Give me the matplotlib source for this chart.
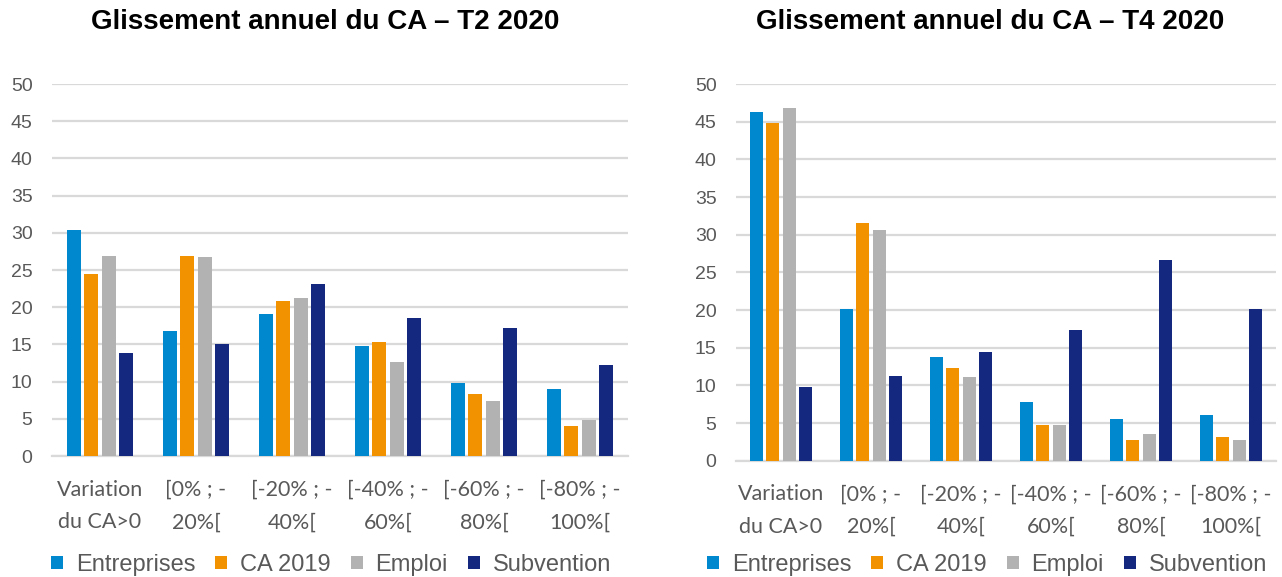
import numpy as np
import matplotlib
matplotlib.use("Agg")
import matplotlib.pyplot as plt

# ── Données ────────────────────────────────────────────────────────────────
categories = ["Variation\ndu CA>0", "[0% ; -\n20%[", "[-20% ; -\n40%[",
              "[-40% ; -\n60%[", "[-60% ; -\n80%[", "[-80% ; -\n100%["]
series = ["Entreprises", "CA 2019", "Emploi", "Subvention"]

t2_entreprises = [30.4, 16.8, 19.1, 14.8, 9.8, 9.0]
t2_ca2019      = [24.4, 26.9, 20.9, 15.3, 8.4, 4.0]
t2_emploi      = [26.9, 26.8, 21.3, 12.7, 7.4, 4.8]
t2_subvention  = [13.8, 15.0, 23.1, 18.6, 17.2, 12.2]

t4_entreprises = [46.3, 20.2, 13.7, 7.8, 5.5, 6.1]
t4_ca2019      = [44.8, 31.6, 12.3, 4.8, 2.7, 3.2]
t4_emploi      = [46.8, 30.6, 11.1, 4.7, 3.5, 2.7]
t4_subvention  = [9.8, 11.3, 14.4, 17.3, 26.7, 20.2]

y_ticks = [0, 5, 10, 15, 20, 25, 30, 35, 40, 45, 50]

COLORS = ["#0088CF", "#F39200", "#B2B2B2", "#152880"]
GRID = "#D9D9D9"
TXT = "#595959"


def draw(ax, data, title, title_x, legend_x):
    x = np.arange(len(categories))
    step, width = 0.183, 0.145
    handles = []
    for k, (vals, col, name) in enumerate(zip(data, COLORS, series)):
        b = ax.bar(x + (k - 1.5) * step, vals, width, color=col, label=name, zorder=3)
        handles.append(b)
    ax.set_xlim(-0.5, len(categories) - 0.5)
    ax.set_ylim(0, 50)
    ax.set_yticks(y_ticks)
    ax.yaxis.grid(True, color=GRID, linewidth=1.6, zorder=0)
    ax.set_axisbelow(True)
    for s in ["top", "right", "left"]:
        ax.spines[s].set_visible(False)
    ax.spines["bottom"].set_color(GRID)
    ax.spines["bottom"].set_linewidth(1.6)
    ax.tick_params(length=0, colors=TXT)
    ax.tick_params(axis="y", labelsize=14, pad=14)
    ax.set_xticks(x)
    ax.set_xticklabels(categories, fontsize=15.5, family="Lato",
                       color=TXT, linespacing=1.8)
    ax.tick_params(axis="x", pad=17)
    for lbl in ax.get_yticklabels():
        lbl.set_family("Liberation Sans")

    fig.text(title_x / 1282, 1 - 22 / 577, title,
             ha="center", va="center", fontsize=20, fontweight="bold",
             family="Liberation Sans")
    fig.legend(handles, series, loc="center",
               bbox_to_anchor=(legend_x / 1282, 1 - 565 / 577), ncol=4,
               frameon=False, handlelength=0.5, handleheight=0.5,
               handletextpad=0.55, columnspacing=0.85,
               prop={"family": "Liberation Sans", "size": 17},
               labelcolor=TXT)


fig = plt.figure(figsize=(12.82, 5.77), dpi=100)
ax1 = fig.add_axes([0.0406, 0.2097, 0.4493, 0.6447])
ax2 = fig.add_axes([0.5741, 0.2016, 0.4212, 0.6528])

draw(ax1, [t2_entreprises, t2_ca2019, t2_emploi, t2_subvention],
     "Glissement annuel du CA – T2 2020", 325, 331)
draw(ax2, [t4_entreprises, t4_ca2019, t4_emploi, t4_subvention],
     "Glissement annuel du CA – T4 2020", 990, 987)

fig.savefig("out.png", dpi=100)
